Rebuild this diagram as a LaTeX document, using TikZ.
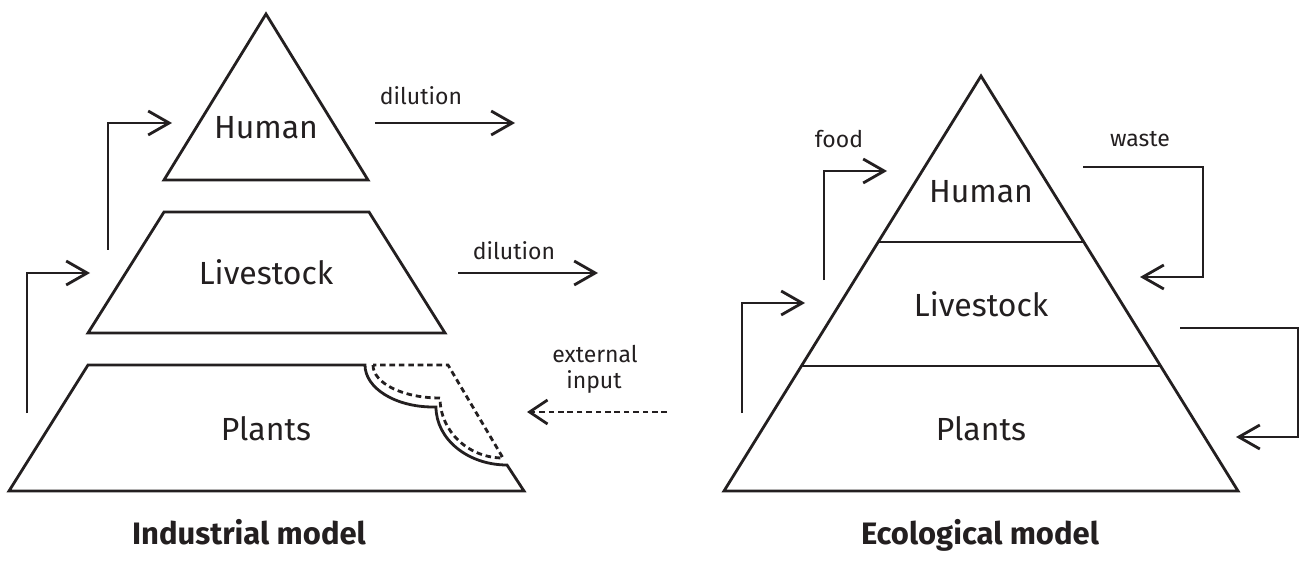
\documentclass[tikz,border=0pt]{standalone}
\usepackage{fontspec}
\setmainfont{Fira Sans}
\usetikzlibrary{arrows.meta}
\definecolor{ink}{HTML}{231F20}
\begin{document}
\begin{tikzpicture}[x=0.5pt,y=-0.5pt,
  layer/.style={line width=1.4pt, draw=ink, line join=miter},
  flow/.style={line width=1.4pt, draw=ink, line join=miter,
    -{Straight Barb[length=10.5pt,width=12pt,line width=1.4pt]}},
  dashflow/.style={flow, dash pattern=on 2.8pt off 1.9pt,
    -{Straight Barb[length=9pt,width=12pt,line width=1.4pt]}},
  dashline/.style={line width=1.4pt, draw=ink, dash pattern=on 2.8pt off 1.9pt},
  big/.style={anchor=base, text=ink, font=\fontsize{16}{19}\selectfont, inner sep=0pt},
  small/.style={anchor=base, text=ink, font=\fontsize{11.5}{14}\selectfont, inner sep=0pt},
  title/.style={anchor=base, text=ink, font=\fontsize{15.5}{18}\selectfont\bfseries, inner sep=0pt}
]
\useasboundingbox (0,0) rectangle (1300,561);

% ---------------- Industrial model ----------------
\draw[layer] (266,14) -- (368,180) -- (164,180) -- cycle;
\draw[layer] (164,212) -- (369,212) -- (445,333) -- (88,333) -- cycle;
\draw[layer] (9,491) -- (88,365) -- (365,365)
  arc[start angle=180, end angle=90, x radius=68, y radius=42]
  -- (436,407)
  arc[start angle=180, end angle=90, x radius=71, y radius=58]
  -- (524,491) -- cycle;
\draw[dashline] (373,365)
  arc[start angle=180, end angle=90, x radius=67, y radius=33]
  arc[start angle=180, end angle=90, x radius=63, y radius=60]
  -- (448,365) -- cycle;

\node[big] (ihuman) at (266,139) {Human};
\node[big] (ilive) at (266,285) {Livestock};
\node[big] (iplants) at (266,440) {Plants};

\coordinate (a1s) at (27,413);
\coordinate (a1e) at (90,273);
\coordinate (a2s) at (108,250);
\coordinate (a2e) at (172,123);
\draw[flow] (a1s) |- (a1e);
\draw[flow] (a2s) |- (a2e);

\coordinate (d1s) at (375,123);
\coordinate (d1e) at (515,123);
\coordinate (d2s) at (458,273);
\coordinate (d2e) at (598,273);
\draw[flow] (d1s) -- (d1e);
\draw[flow] (d2s) -- (d2e);
\node[small] (dil1) at (421,105) {dilution};
\node[small] (dil2) at (514,259) {dilution};

\coordinate (exs) at (667,412);
\coordinate (exe) at (527,412);
\draw[dashflow] (exs) -- (exe);
\node[small] (ext1) at (595,362) {external};
\node[small] (ext2) at (594,388) {input};

\node[title] (ititle) at (249,544) {Industrial model};

% ---------------- Ecological model ----------------
\draw[layer] (981,76) -- (1238,491) -- (724,491) -- cycle;
\draw[layer] (878,242) -- (1084,242);
\draw[layer] (801,366) -- (1161,366);

\node[big] (ehuman) at (981,203) {Human};
\node[big] (elive) at (981,316) {Livestock};
\node[big] (eplants) at (981,440) {Plants};

\coordinate (fs) at (824,280);
\coordinate (fe) at (887,171);
\draw[flow] (fs) |- (fe);
\node[small] (food) at (839,148) {food};

\coordinate (ls) at (742,413);
\coordinate (le) at (805,303);
\draw[flow] (ls) |- (le);

\coordinate (ws) at (1083,167);
\coordinate (wc) at (1203,277);
\coordinate (we) at (1140,277);
\draw[flow] (ws) -| (wc) -- (we);
\node[small] (waste) at (1140,147) {waste};

\coordinate (rs) at (1180,328);
\coordinate (rc) at (1298,437);
\coordinate (re) at (1236,437);
\draw[flow] (rs) -| (rc) -- (re);

\node[title] (etitle) at (980,544) {Ecological model};
\end{tikzpicture}
\end{document}
